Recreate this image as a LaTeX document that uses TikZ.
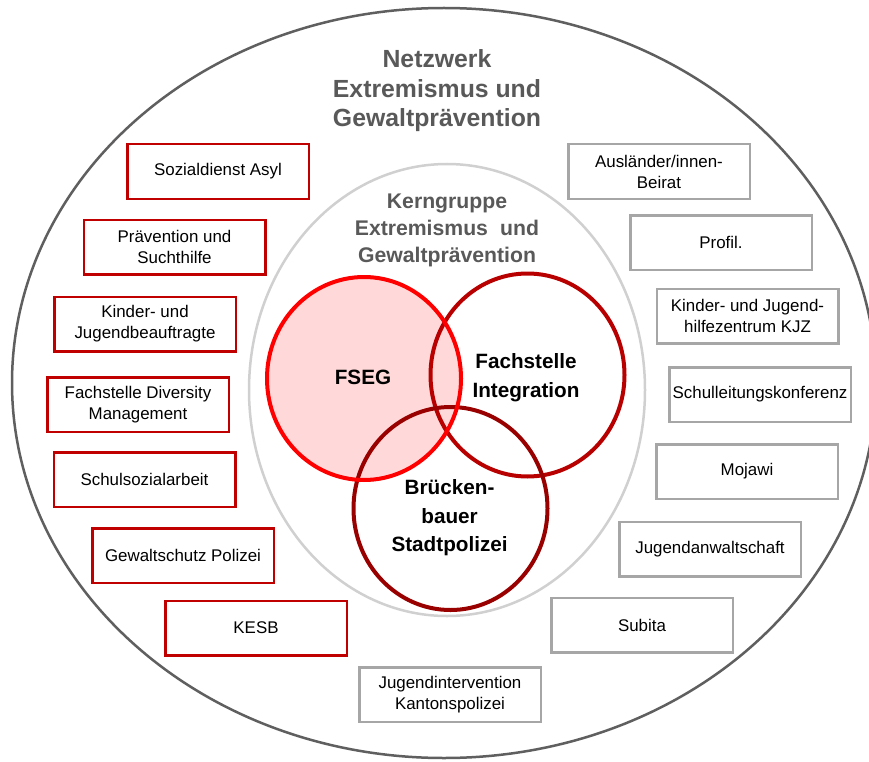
\documentclass[tikz,border=0pt]{standalone}
\usepackage{fontspec}
\setmainfont{Liberation Sans}
\usetikzlibrary{shapes.geometric}
\definecolor{boxred}{HTML}{C00000}
\definecolor{boxgray}{HTML}{A6A6A6}
\definecolor{titlegray}{HTML}{595959}
\definecolor{outergray}{HTML}{5F5F5F}
\definecolor{innergray}{HTML}{D0D0D0}
\definecolor{fsegred}{HTML}{FF0000}
\definecolor{fsegfill}{HTML}{FFD9D9}
\definecolor{integred}{HTML}{B80000}
\definecolor{bruckred}{HTML}{990000}
\tikzset{
  orgbox/.style={draw, line width=2.5pt, minimum width=181.5pt, minimum height=54.5pt,
    inner sep=0pt, align=center, font=\fontsize{16.9}{21}\selectfont, text=black, fill=white},
  leftbox/.style={orgbox, draw=boxred},
  rightbox/.style={orgbox, draw=boxgray},
  venn/.style={ellipse, minimum width=194pt, minimum height=203pt, inner sep=0pt, line width=4pt},
  titletext/.style={align=center, text=titlegray, inner sep=0pt},
  venntext/.style={align=center, text=black, inner sep=0pt},
}
\begin{document}
\begin{tikzpicture}[x=1pt,y=-1pt]
\useasboundingbox (0,0) rectangle (869,762);
\clip (0,0) rectangle (869,762);
\fill[white] (0,0) rectangle (869,762);
% outer and inner ellipses
\node[ellipse, draw=outergray, line width=2.5pt, minimum width=864pt, minimum height=750pt, inner sep=0pt] (net) at (444,383) {};
\node[ellipse, draw=innergray, line width=2.5pt, minimum width=396pt, minimum height=452pt, inner sep=0pt] (kern) at (447,390) {};
% titles
\node[titletext, font=\fontsize{24.8}{29.5}\selectfont\bfseries] (nettitle) at (437,91) {Netzwerk\\Extremismus und\\Gewaltprävention};
\node[titletext, font=\fontsize{21.2}{27}\selectfont\bfseries] (kerntitle) at (447,230.5) {Kerngruppe\\Extremismus\hspace{0.3em} und\\Gewaltprävention};
% venn circles
\node[venn, fill=fsegfill] (fsegfillnode) at (364,378.5) {};
\node[venn, draw=integred] (integ) at (527.5,375) {};
\node[venn, draw=bruckred] (bruck) at (450.5,508.5) {};
\node[venn, draw=fsegred] (fseg) at (364,378.5) {};
\node[venntext, font=\fontsize{20.7}{29}\selectfont\bfseries] (fsegtext) at (363,377.6) {FSEG};
\node[venntext, font=\fontsize{20.7}{29}\selectfont\bfseries] (integtext) at (526,378) {Fachstelle\\Integration};
\node[venntext, font=\fontsize{20.7}{28.5}\selectfont\bfseries] (brucktext) at (449.6,518) {Brücken-\\bauer\\Stadtpolizei};
% left boxes
\node[leftbox] (l1) at (218,171.5) {Sozialdienst Asyl};
\node[leftbox] (l2) at (174.5,247) {Prävention und\\Suchthilfe};
\node[leftbox] (l3) at (145,324) {Kinder- und\\Jugendbeauftragte};
\node[leftbox] (l4) at (138,404.5) {Fachstelle Diversity\\Management};
\node[leftbox] (l5) at (144.5,479.5) {Schulsozialarbeit};
\node[leftbox] (l6) at (183,555.5) {Gewaltschutz Polizei};
\node[leftbox] (l7) at (256,628) {KESB};
% right boxes
\node[rightbox] (r1) at (659,171.5) {Ausländer/innen-\\Beirat};
\node[rightbox] (r2) at (721,242.5) {Profil.};
\node[rightbox] (r3) at (747.5,316) {Kinder- und Jugend-\\hilfezentrum KJZ};
\node[rightbox] (r4) at (760,394.5) {Schulleitungskonferenz};
\node[rightbox] (r5) at (747,471.5) {Mojawi};
\node[rightbox] (r6) at (710,549) {Jugendanwaltschaft};
\node[rightbox] (r7) at (642,625) {Subita};
\node[rightbox] (r8) at (450,694.5) {Jugendintervention\\Kantonspolizei};
\end{tikzpicture}
\end{document}
